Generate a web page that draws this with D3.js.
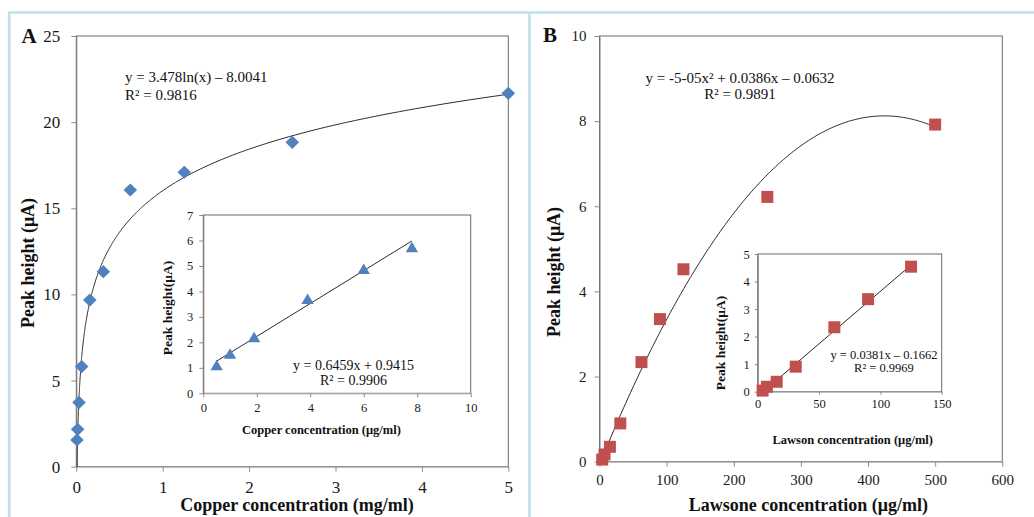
<!DOCTYPE html>
<html>
<head>
<meta charset="utf-8">
<script src="https://cdn.jsdelivr.net/npm/d3@7"></script>
<style>
  body { margin: 0; background: #fff; }
  svg { display: block; }
</style>
</head>
<body>
<div id="chart"></div>
<script>
// panel A: copper, main plot in mg/ml, inset in ug/ml
var copperX = [0.0078, 0.0156, 0.03125, 0.0625, 0.156, 0.3125, 0.625, 1.25, 2.5, 5];
var copperY = [1.55, 2.17, 3.73, 5.81, 9.67, 11.32, 16.06, 17.09, 18.83, 21.67];
var copperInsetX = [0.5, 1, 1.9, 3.9, 6, 7.8];
var copperInsetY = [1.1, 1.55, 2.2, 3.7, 4.88, 5.73];

// panel B: lawsone
var lawsoneX = [4, 7.5, 15.5, 31, 62.5, 90, 125, 250, 500];
var lawsoneY = [0.05, 0.17, 0.35, 0.9, 2.34, 3.35, 4.52, 6.22, 7.92];
var lawsoneInsetX = [4, 7.5, 15.5, 31, 62.5, 90, 125];
var lawsoneInsetY = [0.04, 0.18, 0.36, 0.91, 2.34, 3.36, 4.54];

// tick labels
var copperTicksX = [0, 1, 2, 3, 4, 5];
var copperTicksY = [0, 5, 10, 15, 20, 25];
var copperInsetTicksX = [0, 2, 4, 6, 8, 10];
var copperInsetTicksY = [0, 1, 2, 3, 4, 5, 6, 7];
var lawsoneTicksX = [0, 100, 200, 300, 400, 500, 600];
var lawsoneTicksY = [0, 2, 4, 6, 8, 10];
var lawsoneInsetTicksX = [0, 50, 100, 150];
var lawsoneInsetTicksY = [0, 1, 2, 3, 4, 5];

// trendline coefficients (log fit uses ug/ml, so x * 1000)
var copperLog = [3.478, -8.0041];
var copperLin = [0.6459, 0.9415];
var lawsoneQuad = [-4.55e-5, 0.0386, -0.0632]; // printed as -5E-05 (rounded)
var lawsoneLin = [0.0381, -0.1662];

var width = 1034;
var height = 517;
var serif = '"Liberation Serif", "Times New Roman", serif';
var blue = '#4f81bd';
var red = '#c0504d';

var svg = d3.select('#chart')
    .append('svg')
    .attr('width', width)
    .attr('height', height)
    .style('font-family', serif);

svg.append('rect').attr('width', width).attr('height', height).attr('fill', '#fff');

// light cyan panel frames
svg.append('path')
    .attr('d', 'M8,12.5H1034M9.2,12.5V517M529.5,12.5V517')
    .attr('fill', 'none')
    .attr('stroke', '#bde2e8')
    .attr('stroke-width', 2.6);

var clipId = 0;

function plot(box) {
    var x = d3.scaleLinear().domain(box.xDomain).range([box.left, box.right]);
    var y = d3.scaleLinear().domain(box.yDomain).range([box.bottom, box.top]);
    var g = svg.append('g');

    g.append('rect')
        .attr('x', box.left).attr('y', box.top)
        .attr('width', box.right - box.left)
        .attr('height', box.bottom - box.top)
        .attr('fill', '#fff')
        .attr('stroke', '#6a6a6a');

    var xa = g.append('g')
        .attr('transform', 'translate(0,' + box.bottom + ')')
        .call(d3.axisBottom(x).tickValues(box.xTicks).tickSize(box.tick)
            .tickSizeOuter(0).tickPadding(box.padX).tickFormat(d3.format('d')));
    var ya = g.append('g')
        .attr('transform', 'translate(' + box.left + ',0)')
        .call(d3.axisLeft(y).tickValues(box.yTicks).tickSize(box.tick)
            .tickSizeOuter(0).tickPadding(box.padY).tickFormat(d3.format('d')));

    [xa, ya].forEach(function (a) {
        a.attr('font-family', serif).attr('font-size', box.font);
        a.selectAll('text').attr('fill', '#1a1a1a');
        a.selectAll('line').attr('stroke', '#8c8c8c');
    });
    xa.select('.domain').attr('stroke', '#b0b0b0');
    ya.select('.domain').attr('stroke', '#7a7a7a');

    clipId += 1;
    g.append('clipPath').attr('id', 'clip' + clipId)
        .append('rect')
        .attr('x', box.left).attr('y', box.top)
        .attr('width', box.right - box.left)
        .attr('height', box.bottom - box.top);

    return { g: g, x: x, y: y, clip: 'url(#clip' + clipId + ')' };
}

function trend(p, f, xs) {
    var line = d3.line()
        .x(function (d) { return p.x(d); })
        .y(function (d) { return p.y(f(d)); });
    p.g.append('path')
        .attr('d', line(xs))
        .attr('clip-path', p.clip)
        .attr('fill', 'none')
        .attr('stroke', '#2b2b2b')
        .attr('stroke-width', 1);
}

function points(p, xs, ys, shape, color) {
    p.g.selectAll(null)
        .data(xs)
        .enter()
        .append('path')
        .attr('transform', function (d, i) { return 'translate(' + p.x(d) + ',' + p.y(ys[i]) + ')'; })
        .attr('d', shape)
        .attr('fill', color);
}

function label(txt, x, y, size, opts) {
    opts = opts || {};
    var t = svg.append('text')
        .attr('font-size', size)
        .attr('font-weight', opts.bold ? 'bold' : null)
        .attr('text-anchor', opts.anchor || 'middle')
        .attr('fill', '#111')
        .text(txt);
    if (opts.rotate) {
        t.attr('transform', 'translate(' + x + ',' + y + ') rotate(-90)');
    } else {
        t.attr('x', x).attr('y', y);
    }
    return t;
}

var diamond = 'M0,-6.6L6.8,0L0,6.6L-6.8,0Z';
var triangle = 'M0,-5.6L6.2,5L-6.2,5Z';
var square = 'M-6,-6H6V6H-6Z';

function spread(a, b, n) {
    return d3.range(n + 1).map(function (i) { return a + (b - a) * i / n; });
}

// ---------- panel A ----------
var pA = plot({
    left: 76.3, right: 508.3, top: 36, bottom: 466.7,
    xDomain: [0, 5], yDomain: [0, 25],
    xTicks: copperTicksX, yTicks: copperTicksY,
    font: 17, tick: 5, padX: 9, padY: 11
});
var logXs = d3.range(0, 401).map(function (i) {
    return d3.min(copperX) * Math.pow(d3.max(copperX) / d3.min(copperX), i / 400);
});
trend(pA, function (v) { return copperLog[0] * Math.log(v * 1000) + copperLog[1]; }, logXs);
points(pA, copperX, copperY, diamond, blue);

var pAi = plot({
    left: 203.3, right: 470.7, top: 215, bottom: 393.3,
    xDomain: [0, 10], yDomain: [0, 7],
    xTicks: copperInsetTicksX, yTicks: copperInsetTicksY,
    font: 12.5, tick: 4, padX: 6, padY: 6
});
trend(pAi, function (v) { return copperLin[0] * v + copperLin[1]; },
    spread(d3.min(copperInsetX), d3.max(copperInsetX), 2));
points(pAi, copperInsetX, copperInsetY, triangle, blue);

label('A', 21.5, 43, 21, { bold: true, anchor: 'start' });
label('y = 3.478ln(x) \u2013 8.0041', 125, 81.7, 15, { anchor: 'start' });
label('R\u00b2 = 0.9816', 125, 100, 15, { anchor: 'start' });
label('y = 0.6459x + 0.9415', 353.5, 370, 14);
label('R\u00b2 = 0.9906', 353.5, 385, 14);
label('Copper concentration (\u03bcg/ml)', 321.4, 434, 12.5, { bold: true });
label('Peak height(\u03bcA)', 171.5, 308, 13.5, { bold: true, rotate: true });
label('Copper concentration (mg/ml)', 297, 511, 18, { bold: true });
label('Peak height (\u03bcA)', 34, 263, 18, { bold: true, rotate: true });

// ---------- panel B ----------
var pB = plot({
    left: 599.5, right: 1002.3, top: 36, bottom: 461.7,
    xDomain: [0, 600], yDomain: [0, 10],
    xTicks: lawsoneTicksX, yTicks: lawsoneTicksY,
    font: 15, tick: 5, padX: 7.5, padY: 8
});
trend(pB, function (v) { return lawsoneQuad[0] * v * v + lawsoneQuad[1] * v + lawsoneQuad[2]; },
    spread(d3.min(lawsoneX), d3.max(lawsoneX), 200));
points(pB, lawsoneX, lawsoneY, square, red);

var pBi = plot({
    left: 757.7, right: 941.7, top: 254, bottom: 391.7,
    xDomain: [0, 150], yDomain: [0, 5],
    xTicks: lawsoneInsetTicksX, yTicks: lawsoneInsetTicksY,
    font: 12.5, tick: 3, padX: 4.7, padY: 5
});
trend(pBi, function (v) { return lawsoneLin[0] * v + lawsoneLin[1]; },
    spread(d3.min(lawsoneInsetX), d3.max(lawsoneInsetX), 2));
points(pBi, lawsoneInsetX, lawsoneInsetY, square, red);

label('B', 543, 41.7, 21, { bold: true, anchor: 'start' });
label('y = -5-05x\u00b2 + 0.0386x \u2013 0.0632', 740, 83.3, 15);
label('R\u00b2 = 0.9891', 740, 99, 15);
label('y = 0.0381x \u2013 0.1662', 884, 359.3, 12.5);
label('R\u00b2 = 0.9969', 884, 371.7, 12.5);
label('Lawson concentration (\u03bcg/ml)', 852.7, 444, 12.5, { bold: true });
label('Peak height(\u03bcA)', 725, 343, 13.5, { bold: true, rotate: true });
label('Lawsone concentration (\u03bcg/ml)', 808.3, 511, 18, { bold: true });
label('Peak height (\u03bcA)', 559.5, 272, 18, { bold: true, rotate: true });
</script>
</body>
</html>
